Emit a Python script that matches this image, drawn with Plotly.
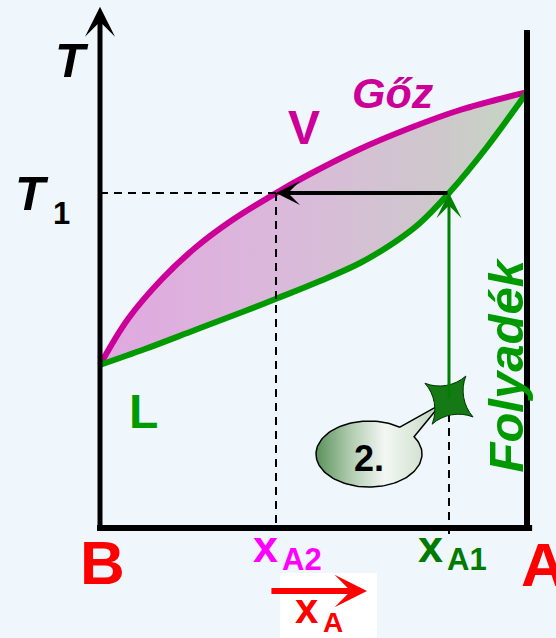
import numpy as np
import plotly.graph_objects as go

# ---------------- data ----------------
# vapour (dew) curve: mole fraction of A vs temperature (arbitrary units)
vap_x = [0.0, 0.0656, 0.1452, 0.2225, 0.2998, 0.4122, 0.4918, 0.6089, 0.7260, 0.8431, 1.0]
vap_T = [37.5, 48.05, 57.24, 64.37, 70.11, 77.0, 81.38, 87.13, 91.95, 96.09, 100.2]
# liquid (bubble) curve
liq_x = [0.0, 0.1054, 0.2225, 0.3396, 0.4169, 0.5152, 0.6089, 0.6909, 0.7494, 0.8173, 0.9063, 1.0]
liq_T = [37.5, 41.15, 45.52, 49.89, 52.87, 56.78, 60.92, 65.75, 70.11, 77.0, 87.59, 100.2]

x_A1 = 0.8173     # liquid composition
x_A2 = 0.4122     # vapour composition
T1 = 77.0         # boiling temperature of the liquid
T_start = 29.4    # starting temperature of the liquid (star)

# ---------------- styling ----------------
MAG = "#cc0099"
GRN = "#009900"
DGRN = "#007a00"
RED = "#ff0000"
PINK = "#ff00ff"
BG = "#eff7fd"
FONT = "Liberation Sans, Arial, sans-serif"

X_RANGE = [-100 / 427, 456 / 427]
Y_RANGE = [-110 / 4.35, 528 / 4.35]

fig = go.Figure()

# two-phase region fill
fill_x = vap_x + liq_x[::-1][1:]
fill_T = vap_T + liq_T[::-1][1:]
fig.add_trace(go.Scatter(
    x=fill_x, y=fill_T, mode="lines", line=dict(width=0, shape="spline"),
    fill="toself",
    fillgradient=dict(type="horizontal",
                      colorscale=[[0, "rgb(224,168,224)"], [0.45, "rgb(218,186,218)"],
                                  [0.8, "rgb(206,200,204)"], [1, "rgb(196,214,192)"]]),
    hoverinfo="skip", showlegend=False))

# curves
fig.add_trace(go.Scatter(x=vap_x, y=vap_T, mode="lines",
                         line=dict(color=MAG, width=6, shape="spline"),
                         showlegend=False, hoverinfo="skip"))
fig.add_trace(go.Scatter(x=liq_x, y=liq_T, mode="lines",
                         line=dict(color=GRN, width=6, shape="spline"),
                         showlegend=False, hoverinfo="skip"))

# dashed guide lines
dash = "8px,6px"
fig.add_trace(go.Scatter(x=[0, x_A2], y=[T1, T1], mode="lines",
                         line=dict(color="black", width=2, dash=dash),
                         showlegend=False, hoverinfo="skip"))
fig.add_trace(go.Scatter(x=[x_A2, x_A2], y=[T1, 0], mode="lines",
                         line=dict(color="black", width=2, dash=dash),
                         showlegend=False, hoverinfo="skip"))
fig.add_trace(go.Scatter(x=[x_A1, x_A1], y=[T_start, -1.5], mode="lines",
                         line=dict(color="black", width=2, dash=dash),
                         showlegend=False, hoverinfo="skip"))

# speech bubble (ellipse + tail)
bcx, bcy, brx, bry = 0.63, 17.0, 0.1241, 7.586
tip = (0.7986, 28.5)
t = np.radians(np.linspace(54.4, 391.8, 120))
bx = list(bcx + brx * np.cos(t)) + [tip[0], bcx + brx * np.cos(t[0])]
by = list(bcy + bry * np.sin(t)) + [tip[1], bcy + bry * np.sin(t[0])]
fig.add_trace(go.Scatter(
    x=bx, y=by, mode="lines", line=dict(color="black", width=1.5),
    fill="toself",
    fillgradient=dict(type="horizontal",
                      colorscale=[[0, "#5a915a"], [0.25, "#a9c7a9"], [0.55, "#f3f7f3"],
                                  [0.8, "#d8e6d8"], [1, "#b5d0b5"]]),
    showlegend=False, hoverinfo="skip"))

# star marking the starting liquid
fig.add_trace(go.Scatter(x=[x_A1], y=[T_start], mode="markers",
                         marker=dict(symbol="star-diamond", size=42, angle=35,
                                     color="#157a15", line=dict(color="#003300", width=1)),
                         showlegend=False, hoverinfo="skip"))

shapes = [
    # white patch behind x_A arrow
    dict(type="rect", xref="x", yref="y", x0=0.4215, x1=0.6487, y0=-10.34, y1=-26,
         fillcolor="white", line=dict(width=0), layer="below"),
    # bottom axis
    dict(type="line", xref="x", yref="y", x0=-0.007, x1=1.012, y0=0, y1=0,
         line=dict(color="black", width=6)),
    # right axis
    dict(type="line", xref="x", yref="y", x0=1, x1=1, y0=-0.6, y1=114.5,
         line=dict(color="black", width=6)),
]

ann = []
def arrow(x0, y0, x1, y1, color, width, head, size):
    ann.append(dict(x=x1, y=y1, ax=x0, ay=y0, xref="x", yref="y", axref="x", ayref="y",
                    text="", showarrow=True, arrowhead=head, arrowsize=size,
                    arrowwidth=width, arrowcolor=color))

arrow(0, -0.6, 0, 119.8, "black", 5, 3, 1.0)          # T axis
arrow(x_A1, T1, x_A2, T1, "black", 4, 3, 1.0)         # vapour composition
arrow(x_A1, T_start, x_A1, T1, "#008000", 3, 3, 1.4)   # heating the liquid
arrow(0.398, -14.48, 0.6253, -14.48, RED, 6, 3, 0.9)  # x_A direction

def label(x, y, text, size, color, italic=False, angle=0, xanchor="center"):
    ann.append(dict(x=x, y=y, xref="x", yref="y", text=text, showarrow=False,
                    textangle=angle, xanchor=xanchor, yanchor="middle",
                    font=dict(family=FONT, size=size, color=color,
                              weight="bold", style="italic" if italic else "normal")))

label(-0.0656, 107.6, "T", 49, "black", italic=True)
label(-0.1148, 77.0, "T", 49, "black", italic=True, xanchor="right")
label(-0.1148, 72.3, "1", 31, "black", xanchor="left")
label(0.686, 100.0, "Gőz", 43, MAG, italic=True)
label(0.4778, 92.0, "V", 48, MAG)
label(0.103, 26.7, "L", 48, GRN)
label(0.950, 37.5, "Folyadék", 49, GRN, italic=True, angle=-90)
label(0.007, -8.0, "B", 62, RED)
label(1.0375, -8.3, "A", 62, RED)
label(0.4215, -4.2, "x", 45, PINK, xanchor="right")
label(0.4215, -7.3, "A2", 31, PINK, xanchor="left")
label(0.8080, -4.2, "x", 45, DGRN, xanchor="right")
label(0.8080, -7.3, "A1", 31, DGRN, xanchor="left")
label(0.5176, -18.4, "x", 42, RED, xanchor="right")
label(0.5176, -21.7, "A", 28, RED, xanchor="left")
label(0.63, 16.0, "2.", 36, "black")

fig.update_layout(
    width=556, height=638, margin=dict(l=0, r=0, t=0, b=0),
    paper_bgcolor=BG, plot_bgcolor=BG,
    xaxis=dict(range=X_RANGE, visible=False, fixedrange=True),
    yaxis=dict(range=Y_RANGE, visible=False, fixedrange=True),
    shapes=shapes, annotations=ann, showlegend=False,
)

fig.write_html(
    "out.html",
    config={"displayModeBar": False},
    post_script="document.body.style.margin='0';document.body.style.overflow='hidden';"
                "document.body.style.background='" + BG + "';",
)
